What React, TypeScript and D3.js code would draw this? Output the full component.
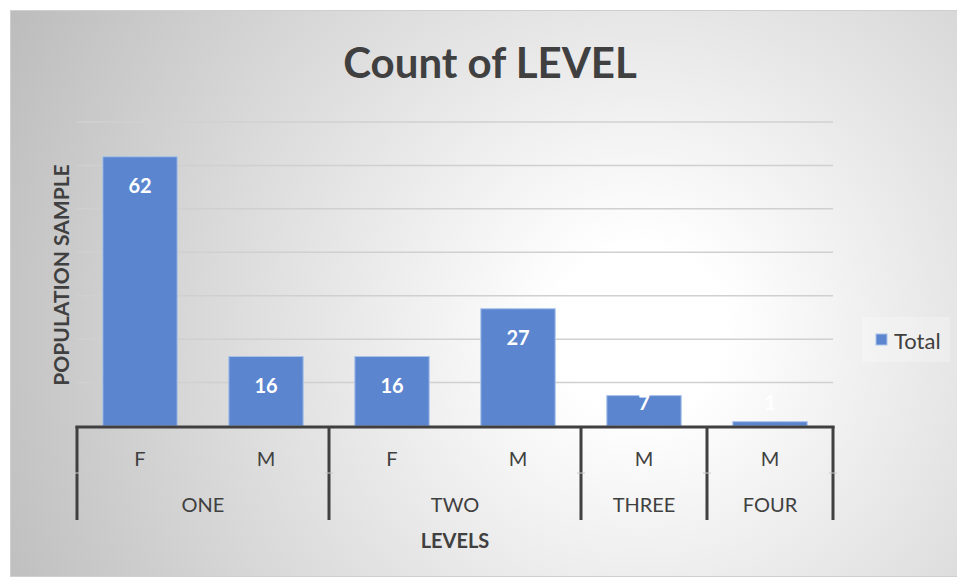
import React from "react";
import * as d3 from "d3";

const groups = ["ONE", "ONE", "TWO", "TWO", "THREE", "FOUR"];
const genders = ["F", "M", "F", "M", "M", "M"];
const values = [62, 16, 16, 27, 7, 1];
const gridTicks = [10, 20, 30, 40, 50, 60, 70];
const groupNames = ["ONE", "TWO", "THREE", "FOUR"];

const W = 957;
const H = 577;
const FONT = "Lato, 'Open Sans', sans-serif";

export default function App() {
  const left = 77, right = 833, top = 122, bottom = 426;
  const idx = values.map((_, i) => String(i));
  const x = d3.scaleBand<string>().domain(idx).range([left, right]).paddingInner(0.41).paddingOuter(0.205);
  const slot = d3.scaleBand<string>().domain(idx).range([left, right]);
  const y = d3.scaleLinear().domain([0, 70]).range([bottom, top]);

  const groupSpans = groupNames.map((g) => {
    const members = idx.filter((i) => groups[+i] === g);
    const x0 = slot(members[0])!;
    const x1 = slot(members[members.length - 1])! + slot.bandwidth();
    return { g, x0, x1 };
  });
  const separators = [left, ...groupSpans.map((s) => s.x1)];

  return (
    <svg width={W} height={H} style={{ position: "fixed", left: 0, top: 0 }}>
      <defs>
        <radialGradient id="bg" gradientUnits="userSpaceOnUse" cx={640} cy={330} r={700}>
          <stop offset="0" stopColor="#ffffff" />
          <stop offset="0.12" stopColor="#ffffff" />
          <stop offset="1" stopColor="#bdbdbd" />
        </radialGradient>
      </defs>
      <rect x={0} y={0} width={W} height={H} fill="#ffffff" />
      <rect x={10.5} y={10.5} width={947} height={566} fill="url(#bg)" stroke="#cfcfcf" strokeWidth={1} />

      <text x={490} y={62} textAnchor="middle" dominantBaseline="central" fontFamily={FONT} fontWeight="bold" fontSize={42} fill="#404040">
        Count of LEVEL
      </text>

      {gridTicks.map((t) => (
        <line key={t} x1={left} x2={right} y1={y(t)} y2={y(t)} stroke="#d0d0d0" strokeWidth={1.5} />
      ))}

      {values.map((v, i) => (
        <rect key={i} x={x(String(i))} y={y(v)} width={x.bandwidth()} height={bottom - y(v)} fill="#5b86cf" stroke="#a9c1ea" strokeWidth={1} />
      ))}

      {values.map((v, i) => (
        <text key={i} x={x(String(i))! + x.bandwidth() / 2} y={Math.min(y(v) + 28, 402)} textAnchor="middle" dominantBaseline="central" fontFamily={FONT} fontWeight="bold" fontSize={20} fill="#ffffff">
          {v}
        </text>
      ))}

      <line x1={left - 1.5} x2={right + 1.5} y1={bottom + 1} y2={bottom + 1} stroke="#404040" strokeWidth={3} />
      {separators.map((sx, i) => (
        <g key={i}>
          <line x1={sx} x2={sx} y1={bottom} y2={520} stroke="#404040" strokeWidth={3} />
          <line x1={sx - 4} x2={sx + 4} y1={473} y2={473} stroke="#c8c8c8" strokeWidth={1} />
        </g>
      ))}

      {genders.map((g, i) => (
        <text key={i} x={slot(String(i))! + slot.bandwidth() / 2} y={458} textAnchor="middle" dominantBaseline="central" fontFamily={FONT} fontSize={20} fill="#404040">
          {g}
        </text>
      ))}
      {groupSpans.map((s) => (
        <text key={s.g} x={(s.x0 + s.x1) / 2} y={504} textAnchor="middle" dominantBaseline="central" fontFamily={FONT} fontSize={20} fill="#404040">
          {s.g}
        </text>
      ))}

      <text x={(left + right) / 2} y={540} textAnchor="middle" dominantBaseline="central" fontFamily={FONT} fontWeight="bold" fontSize={20} fill="#404040">
        LEVELS
      </text>
      <text transform={`translate(60,275) rotate(-90)`} textAnchor="middle" dominantBaseline="central" fontFamily={FONT} fontWeight="bold" fontSize={21} fill="#404040">
        POPULATION SAMPLE
      </text>

      <rect x={862} y={317} width={88} height={45} fill="#ffffff" fillOpacity={0.25} />
      <rect x={876} y={334} width={11} height={11} fill="#5b86cf" stroke="#a9c1ea" strokeWidth={1} />
      <text x={894} y={340} dominantBaseline="central" fontFamily={FONT} fontSize={22} fill="#404040">
        Total
      </text>
    </svg>
  );
}
